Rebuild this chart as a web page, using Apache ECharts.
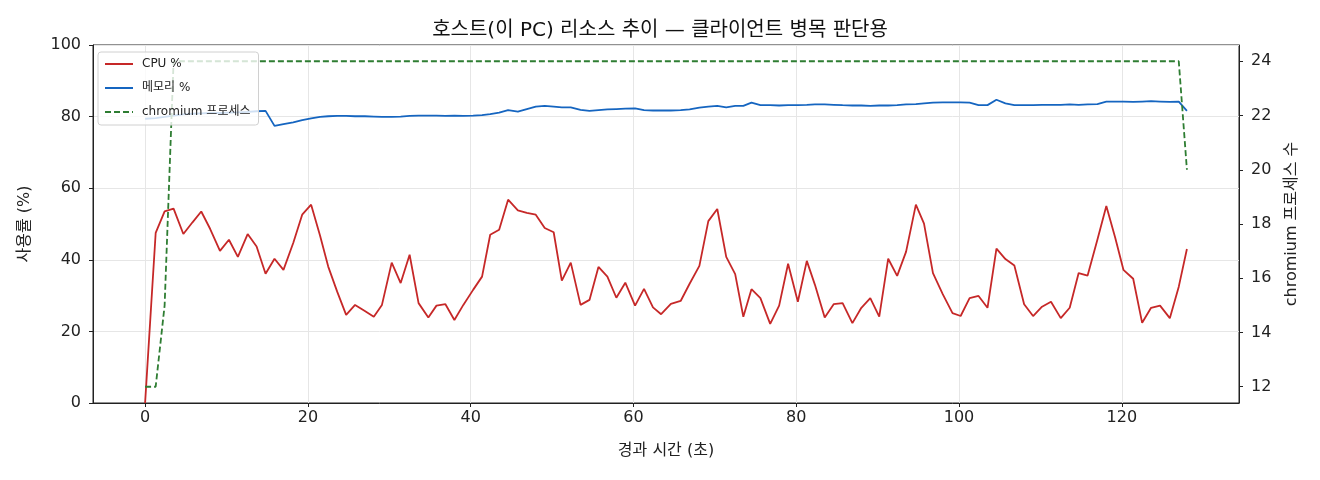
<!DOCTYPE html>
<html>
<head>
<meta charset="utf-8">
<script src="https://cdn.jsdelivr.net/npm/echarts@6/dist/echarts.min.js"></script>
<style>
  html, body { margin: 0; padding: 0; background: #fff; }
  #main { width: 1320px; height: 480px; }
</style>
</head>
<body>
<div id="main"></div>
<script>
// elapsed seconds of each sample
var times = [
  0.0, 1.3, 2.4, 3.5, 4.7, 5.8, 6.9, 8.0, 9.2, 10.3,
  11.4, 12.6, 13.7, 14.8, 15.9, 17.0, 18.2, 19.3, 20.4, 21.5,
  22.5, 23.6, 24.7, 25.8, 27.0, 28.1, 29.1, 30.3, 31.4, 32.5,
  33.6, 34.8, 35.8, 36.9, 38.0, 39.1, 40.3, 41.4, 42.4, 43.5,
  44.6, 45.8, 46.9, 48.0, 49.1, 50.2, 51.2, 52.3, 53.5, 54.6,
  55.7, 56.8, 57.9, 59.0, 60.2, 61.3, 62.4, 63.4, 64.6, 65.8,
  66.9, 68.1, 69.2, 70.3, 71.4, 72.5, 73.5, 74.5, 75.6, 76.8,
  77.9, 79.0, 80.2, 81.3, 82.3, 83.5, 84.6, 85.7, 86.9, 88.0,
  89.1, 90.2, 91.3, 92.4, 93.5, 94.7, 95.7, 96.8, 98.0, 99.2,
  100.2, 101.3, 102.4, 103.5, 104.6, 105.7, 106.8, 108.0, 109.1, 110.2,
  111.3, 112.5, 113.6, 114.7, 115.8, 117.0, 118.1, 119.2, 120.2, 121.4,
  122.5, 123.6, 124.7, 125.9, 127.0, 128.0
];
var cpu = [
  0, 47.5, 53.5, 54.3, 47.2, 50.4, 53.5, 48.6, 42.5, 45.6,
  40.8, 47.2, 43.7, 36.1, 40.3, 37.2, 44.7, 52.6, 55.4, 46.7,
  38.1, 31.1, 24.6, 27.4, 25.7, 24.1, 27.4, 39.2, 33.5, 41.4,
  27.9, 23.9, 27.2, 27.6, 23.2, 27.4, 31.6, 35.3, 47.0, 48.4,
  56.8, 53.8, 53.1, 52.6, 48.9, 47.7, 34.2, 39.2, 27.4, 28.8,
  38.0, 35.3, 29.4, 33.6, 27.2, 31.9, 26.7, 24.8, 27.7, 28.5,
  33.3, 38.3, 50.8, 54.2, 40.8, 36.0, 24.1, 31.8, 29.3, 22.1,
  27.2, 38.9, 28.3, 39.7, 33.0, 23.9, 27.6, 27.9, 22.3, 26.6,
  29.3, 24.1, 40.3, 35.5, 42.3, 55.4, 50.1, 36.3, 30.4, 25.1,
  24.3, 29.3, 29.9, 26.6, 43.1, 40.2, 38.4, 27.6, 24.3, 26.9,
  28.3, 23.7, 26.6, 36.3, 35.6, 45.6, 55.0, 46.1, 37.2, 34.7,
  22.4, 26.6, 27.2, 23.7, 32.5, 43.0
];
var mem = [
  79.4, 79.6, 79.9, 80.3, 80.6, 80.8, 80.9, 81.0, 81.0, 81.1,
  81.2, 81.3, 81.5, 81.6, 77.4, 77.9, 78.4, 79.0, 79.5, 79.9,
  80.1, 80.2, 80.2, 80.1, 80.1, 80.0, 79.9, 79.9, 80.0, 80.2,
  80.3, 80.3, 80.3, 80.2, 80.3, 80.2, 80.3, 80.4, 80.7, 81.1,
  81.8, 81.4, 82.1, 82.8, 83.0, 82.8, 82.6, 82.6, 81.9, 81.6,
  81.8, 82.0, 82.1, 82.2, 82.3, 81.8, 81.7, 81.7, 81.7, 81.8,
  82.0, 82.5, 82.8, 83.0, 82.6, 83.0, 83.0, 83.9, 83.2, 83.2,
  83.1, 83.2, 83.2, 83.3, 83.4, 83.4, 83.3, 83.2, 83.1, 83.1,
  83.0, 83.1, 83.1, 83.2, 83.4, 83.5, 83.7, 83.9, 84.0, 84.0,
  84.0, 83.9, 83.2, 83.2, 84.7, 83.7, 83.2, 83.2, 83.2, 83.3,
  83.3, 83.3, 83.4, 83.3, 83.4, 83.5, 84.2, 84.2, 84.2, 84.1,
  84.2, 84.3, 84.2, 84.1, 84.2, 81.6
];
var procs = [
  12, 12, 15, 24, 24, 24, 24, 24, 24, 24,
  24, 24, 24, 24, 24, 24, 24, 24, 24, 24,
  24, 24, 24, 24, 24, 24, 24, 24, 24, 24,
  24, 24, 24, 24, 24, 24, 24, 24, 24, 24,
  24, 24, 24, 24, 24, 24, 24, 24, 24, 24,
  24, 24, 24, 24, 24, 24, 24, 24, 24, 24,
  24, 24, 24, 24, 24, 24, 24, 24, 24, 24,
  24, 24, 24, 24, 24, 24, 24, 24, 24, 24,
  24, 24, 24, 24, 24, 24, 24, 24, 24, 24,
  24, 24, 24, 24, 24, 24, 24, 24, 24, 24,
  24, 24, 24, 24, 24, 24, 24, 24, 24, 24,
  24, 24, 24, 24, 24, 20
];
var xTicks = [0, 20, 40, 60, 80, 100, 120];
var procTicks = [12, 14, 16, 18, 20, 22, 24];

function pairs(ys) {
  return times.map(function(t, i) { return [t, ys[i]]; });
}

var font = '"DejaVu Sans", "Noto Sans CJK KR", sans-serif';
var myChart = echarts.init(document.getElementById('main'));

var option = {
  animation: false,
  textStyle: { fontFamily: font },
  title: {
    text: '호스트(이 PC) 리소스 추이 — 클라이언트 병목 판단용',
    left: 'center',
    top: 16,
    textStyle: { fontSize: 20, fontWeight: 'normal', color: '#111', fontFamily: font }
  },
  grid: {
    left: 93, right: 81, top: 45, bottom: 77,
    show: true, borderColor: '#222', borderWidth: 1
  },
  legend: {
    left: 98, top: 52,
    orient: 'vertical',
    itemWidth: 28, itemHeight: 14, itemGap: 12,
    padding: [6, 8, 7, 6],
    backgroundColor: 'rgba(255,255,255,0.8)',
    borderColor: '#d0d0d0', borderWidth: 1, borderRadius: 3,
    itemStyle: { opacity: 0 },
    textStyle: { fontSize: 12, color: '#222', fontFamily: font, padding: [0, 0, 0, 4] },
    data: ['CPU %', '메모리 %', 'chromium 프로세스']
  },
  xAxis: {
    type: 'value',
    min: -6.4, max: 134.4,
    name: '경과 시간 (초)',
    nameLocation: 'middle',
    nameGap: 40,
    nameTextStyle: { fontSize: 16, color: '#222' },
    axisLine: { show: true, onZero: false, lineStyle: { color: '#222' } },
    axisTick: { show: true, length: 4, customValues: xTicks, lineStyle: { color: '#222' } },
    axisLabel: { customValues: xTicks, fontSize: 16, color: '#222', margin: 7 },
    splitLine: { show: true, lineStyle: { color: '#e6e6e6' } }
  },
  yAxis: [{
    type: 'value',
    min: 0, max: 100, interval: 20,
    name: '사용률 (%)',
    nameLocation: 'middle',
    nameGap: 60,
    nameTextStyle: { fontSize: 16, color: '#222' },
    axisLine: { show: true, onZero: false, lineStyle: { color: '#222' } },
    axisTick: { show: true, length: 4, lineStyle: { color: '#222' } },
    axisLabel: { fontSize: 16, color: '#222', margin: 12 },
    splitLine: { show: true, lineStyle: { color: '#e6e6e6' } }
  }, {
    type: 'value',
    position: 'right',
    min: 11.4, max: 24.6,
    name: 'chromium 프로세스 수',
    nameLocation: 'middle',
    nameGap: 45,
    nameTextStyle: { fontSize: 16, color: '#222' },
    axisLine: { show: true, onZero: false, lineStyle: { color: '#222' } },
    axisTick: { show: true, length: 4, customValues: procTicks, lineStyle: { color: '#222' } },
    axisLabel: { customValues: procTicks, fontSize: 16, color: '#222', margin: 12 },
    splitLine: { show: false }
  }],
  series: [{
    name: 'CPU %',
    type: 'line',
    yAxisIndex: 0,
    symbol: 'none',
    data: pairs(cpu),
    color: '#c62828',
    lineStyle: { width: 1.8, color: '#c62828' },
    z: 3
  }, {
    name: '메모리 %',
    type: 'line',
    yAxisIndex: 0,
    symbol: 'none',
    data: pairs(mem),
    color: '#1565c0',
    lineStyle: { width: 1.8, color: '#1565c0' },
    z: 3
  }, {
    name: 'chromium 프로세스',
    type: 'line',
    yAxisIndex: 1,
    symbol: 'none',
    data: pairs(procs),
    color: '#2e7d32',
    lineStyle: { width: 1.8, color: '#2e7d32', type: [6, 3] },
    z: 3
  }]
};
myChart.setOption(option);
</script>
</body>
</html>
